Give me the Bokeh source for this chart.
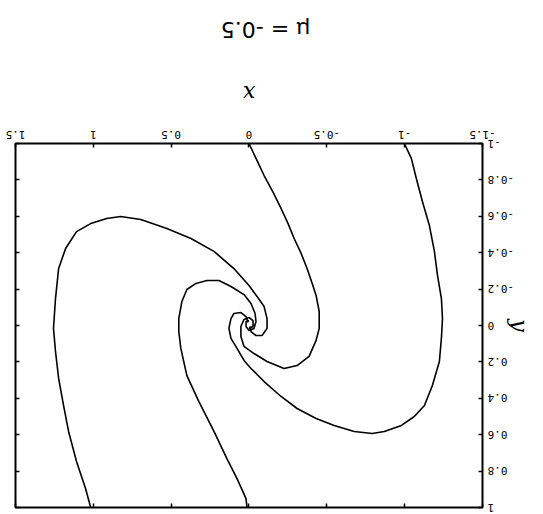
from bokeh.embed import file_html
from bokeh.models import FixedTicker, LinearAxis, Range1d
from bokeh.plotting import figure
from bokeh.resources import INLINE

# ---- data -----------------------------------------------------------------
title_text = "μ = -0.5"
x_label_text = "x"
y_label_text = "y"

x_ticks = [-1.5, -1, -0.5, 0, 0.5, 1, 1.5]
x_tick_labels = ["-1.5", "-1", "-0.5", "0", "0.5", "1", "1.5"]
y_ticks = [-1, -0.8, -0.6, -0.4, -0.2, 0, 0.2, 0.4, 0.6, 0.8, 1]
y_tick_labels = ["-1", "-0.8", "-0.6", "-0.4", "-0.2", "0",
                 "0.2", "0.4", "0.6", "0.8", "1"]

# spiral arm entering from y = -1 near x = 0
arm_a_x = [0.000, -0.045, -0.097, -0.155, -0.206, -0.251, -0.290, -0.335,
           -0.373, -0.406, -0.431, -0.451, -0.451, -0.431, -0.386, -0.309,
           -0.225, -0.116, -0.032, 0.032, 0.052, 0.052, 0.032, 0.000,
           -0.026, -0.026, 0.000]
arm_a_y = [-1.000, -0.918, -0.824, -0.731, -0.643, -0.560, -0.478, -0.396,
           -0.313, -0.231, -0.165, -0.077, 0.016, 0.082, 0.170, 0.220,
           0.236, 0.198, 0.154, 0.115, 0.060, 0.005, -0.033, -0.044,
           -0.027, 0.005, 0.016]

# spiral arm entering from y = -1 near x = -1
arm_b_x = [-0.998, -1.043, -1.075, -1.114, -1.159, -1.191, -1.211, -1.236,
           -1.243, -1.236, -1.223, -1.178, -1.127, -1.062, -0.979, -0.869,
           -0.792, -0.676, -0.547, -0.431, -0.309, -0.206, -0.097, -0.013,
           0.032, 0.077, 0.116, 0.129, 0.116, 0.097, 0.052, 0.019, 0.006]
arm_b_y = [-1.000, -0.918, -0.808, -0.681, -0.549, -0.407, -0.275, -0.148,
           -0.038, 0.071, 0.198, 0.330, 0.440, 0.500, 0.549, 0.582,
           0.593, 0.582, 0.549, 0.511, 0.456, 0.390, 0.308, 0.236,
           0.192, 0.126, 0.071, 0.016, -0.038, -0.066, -0.071, -0.049, -0.016]

# spiral arm entering from y = 1 near x = 0
arm_c_x = [0.013, 0.019, 0.077, 0.142, 0.225, 0.322, 0.399, 0.438, 0.451,
           0.451, 0.431, 0.399, 0.341, 0.270, 0.193, 0.116, 0.032, -0.013,
           -0.039, -0.045, -0.032, 0.000, 0.019, 0.019, 0.000]
arm_c_y = [1.000, 0.951, 0.841, 0.731, 0.582, 0.418, 0.275, 0.126, 0.033,
           -0.038, -0.132, -0.198, -0.231, -0.247, -0.247, -0.214, -0.170,
           -0.121, -0.066, -0.022, 0.016, 0.027, 0.005, -0.022, -0.027]

# spiral arm entering from y = 1 near x = 1
arm_d_x = [1.017, 1.050, 1.108, 1.159, 1.191, 1.223, 1.243, 1.256, 1.243,
           1.223, 1.178, 1.108, 1.017, 0.914, 0.824, 0.695, 0.528, 0.373,
           0.225, 0.097, 0.000, -0.052, -0.097, -0.116, -0.116, -0.084,
           -0.045, -0.013, -0.006]
arm_d_y = [1.000, 0.896, 0.747, 0.582, 0.440, 0.291, 0.143, 0.016, -0.148,
           -0.313, -0.423, -0.516, -0.560, -0.588, -0.599, -0.582, -0.533,
           -0.478, -0.407, -0.313, -0.220, -0.159, -0.104, -0.038, 0.016,
           0.055, 0.055, 0.033, 0.005]

arms = [(arm_a_x, arm_a_y), (arm_b_x, arm_b_y),
        (arm_c_x, arm_c_y), (arm_d_x, arm_d_y)]

# ---- figure ---------------------------------------------------------------
# The whole page is shown turned upside down (rotated half a revolution).
p = figure(
    width=543, height=514,
    x_range=Range1d(-1.5, 1.5), y_range=Range1d(-1, 1),
    output_backend="svg", toolbar_location=None,
    min_border_left=60, min_border_right=16,
    min_border_top=6, min_border_bottom=144,
    background_fill_color="white", border_fill_color="white",
)
p.styles = {"transform": "rotate(180deg)"}
p.grid.visible = False
p.outline_line_color = "black"
p.outline_line_width = 2

tick_font = "DejaVu Sans Mono"


def style_axis(ax, ticks, labels, standoff):
    ax.ticker = FixedTicker(ticks=ticks)
    ax.major_label_overrides = dict(zip(ticks, labels))
    ax.axis_line_color = None
    ax.major_tick_in = 4
    ax.major_tick_out = 0
    ax.major_tick_line_color = "black"
    ax.major_tick_line_width = 1.5
    ax.minor_tick_line_color = None
    ax.major_label_text_font = tick_font
    ax.major_label_text_font_size = "11px"
    ax.major_label_text_color = "black"
    ax.major_label_standoff = standoff
    ax.axis_label_text_font = "DejaVu Serif"
    ax.axis_label_text_font_style = "italic"
    ax.axis_label_text_font_size = "22px"
    ax.axis_label_text_color = "black"


def box_ticks(ticks):
    # label-free axis: tick positions given as minor ticks only
    ax = LinearAxis(ticker=FixedTicker(ticks=[], minor_ticks=ticks))
    ax.axis_line_color = None
    ax.major_tick_line_color = None
    ax.minor_tick_in = 4
    ax.minor_tick_out = 0
    ax.minor_tick_line_color = "black"
    ax.minor_tick_line_width = 1.5
    return ax


xa = p.xaxis[0]
ya = p.yaxis[0]
style_axis(xa, x_ticks, x_tick_labels, 5)
style_axis(ya, y_ticks, y_tick_labels, 5)
xa.axis_label = x_label_text
xa.axis_label_standoff = 22
ya.axis_label = y_label_text
ya.axis_label_standoff = -10

p.add_layout(box_ticks(x_ticks), "above")
p.add_layout(box_ticks(y_ticks), "right")

# heading line under the x axis, set slightly left of the frame centre
title_x = -0.106
title_axis = LinearAxis(ticker=FixedTicker(ticks=[title_x]))
title_axis.major_label_overrides = {title_x: title_text}
title_axis.axis_line_color = None
title_axis.major_tick_line_color = None
title_axis.minor_tick_line_color = None
title_axis.major_label_standoff = 30
title_axis.major_label_text_font = "DejaVu Sans"
title_axis.major_label_text_font_size = "22px"
title_axis.major_label_text_color = "black"
p.add_layout(title_axis, "below")

for xs, ys in arms:
    p.line(xs, ys, line_color="black", line_width=1.6)

open("out.html", "w").write(file_html(p, INLINE))
